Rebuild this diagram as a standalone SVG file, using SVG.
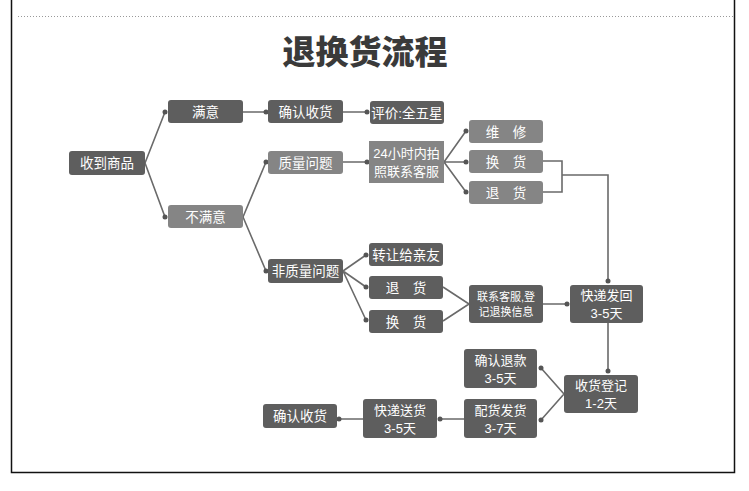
<svg xmlns="http://www.w3.org/2000/svg" width="749" height="491" viewBox="0 0 749 491">
<style>
.dk{fill:#5e5e5e}
.lt{fill:#858585}
.t{font-family:"Liberation Sans","Noto Sans CJK SC",sans-serif;font-size:13.5px;fill:#fff;text-anchor:middle}
.m{font-size:13px}
.s{font-size:11px}
.c{fill:none;stroke:#6a6a6a;stroke-width:1.6}
.d{fill:#555}
</style>
<rect width="749" height="491" fill="#fff"/>
<g id="frame">
<path d="M11.5,0 V472.5 H734.5 V0" fill="none" stroke="#111" stroke-width="1.5"/>
<line x1="18" y1="16.5" x2="734" y2="16.5" stroke="#999" stroke-width="1" stroke-dasharray="1,2"/>
</g>
<text id="title" x="365" y="64" font-family="Noto Sans CJK SC,serif" font-weight="900" font-size="33" fill="#3a3a3a" text-anchor="middle">退换货流程</text>
<g id="connectors">
<path class="c" d="M145,163 L165,112 M145,163 L165,217 M243,112 H266 M343,112 H367 M243,217 L266,162 M243,217 L266,271 M343,162 H367 M444,162 L466,131 M444,162 H466 M444,162 L466,192 M543,161 H562 V192 H543 M562,175 H608 V281 M343,271 L366,255 M343,271 L366,287 M343,271 L366,320 M443,287 L469,304 M443,321 L469,304 M543,304 H567 M608,323 V371 M564,394 L541,368 M564,394 L541,420 M464,419 H440 M363,419 H339"/>
<g class="d">
<circle cx="165" cy="112" r="2.5"/><circle cx="165" cy="217" r="2.5"/><circle cx="266" cy="112" r="2.5"/><circle cx="367" cy="112" r="2.5"/>
<circle cx="266" cy="162" r="2.5"/><circle cx="266" cy="271" r="2.5"/><circle cx="367" cy="162" r="2.5"/>
<circle cx="466" cy="131" r="2.5"/><circle cx="466" cy="162" r="2.5"/><circle cx="466" cy="192" r="2.5"/>
<circle cx="608" cy="281" r="2.5"/><circle cx="366" cy="255" r="2.5"/><circle cx="366" cy="287" r="2.5"/><circle cx="366" cy="320" r="2.5"/>
<circle cx="567" cy="304" r="2.5"/><circle cx="608" cy="371" r="2.5"/><circle cx="541" cy="368" r="2.5"/><circle cx="541" cy="420" r="2.5"/>
<circle cx="440" cy="419" r="2.5"/><circle cx="339" cy="419" r="2.5"/>
</g>
</g>
<g id="n1"><rect class="dk" x="69" y="151" width="76" height="24" rx="3"/><text class="t" x="107" y="168">收到商品</text></g>
<g id="n2"><rect class="dk" x="168" y="100" width="75" height="23" rx="3"/><text class="t" x="205.5" y="116.5">满意</text></g>
<g id="n3"><rect class="lt" x="168" y="205" width="75" height="23" rx="3"/><text class="t" x="205.5" y="221.5">不满意</text></g>
<g id="n4"><rect class="dk" x="268" y="100" width="75" height="23" rx="3"/><text class="t" x="305.5" y="116.5">确认收货</text></g>
<g id="n5"><rect class="dk" x="370" y="101" width="74" height="23" rx="3"/><text class="t" x="407" y="117.5">评价:全五星</text></g>
<g id="n6"><rect class="lt" x="268" y="151" width="75" height="23" rx="3"/><text class="t" x="305.5" y="167.5">质量问题</text></g>
<g id="n7"><rect class="lt" x="369" y="141" width="75" height="42"/><text class="t m" x="406.5" y="158">24小时内拍</text><text class="t m" x="406.5" y="176">照联系客服</text></g>
<g id="n8"><rect class="lt" x="469" y="120" width="74" height="23" rx="3"/><text class="t" x="506" y="136.5">维　修</text></g>
<g id="n9"><rect class="lt" x="469" y="150" width="74" height="23" rx="3"/><text class="t" x="506" y="166.5">换　货</text></g>
<g id="n10"><rect class="lt" x="469" y="181" width="74" height="23" rx="3"/><text class="t" x="506" y="197.5">退　货</text></g>
<g id="n11"><rect class="dk" x="268" y="259" width="75" height="24" rx="3"/><text class="t" x="305.5" y="276">非质量问题</text></g>
<g id="n12"><rect class="dk" x="369" y="243" width="74" height="23" rx="3"/><text class="t" x="406" y="259.5">转让给亲友</text></g>
<g id="n13"><rect class="dk" x="369" y="276" width="74" height="23" rx="3"/><text class="t" x="406" y="292.5">退　货</text></g>
<g id="n14"><rect class="dk" x="369" y="310" width="74" height="23" rx="3"/><text class="t" x="406" y="326.5">换　货</text></g>
<g id="n15"><rect class="dk" x="469" y="285" width="74" height="38" rx="3"/><text class="t s" x="506" y="301">联系客服,登</text><text class="t s" x="506" y="316">记退换信息</text></g>
<g id="n16"><rect class="dk" x="570" y="285" width="73" height="38" rx="3"/><text class="t m" x="606.5" y="300">快递发回</text><text class="t m" x="606.5" y="318">3-5天</text></g>
<g id="n17"><rect class="dk" x="564" y="375" width="74" height="38" rx="3"/><text class="t m" x="601" y="390">收货登记</text><text class="t m" x="601" y="408">1-2天</text></g>
<g id="n18"><rect class="dk" x="464" y="349" width="73" height="39" rx="3"/><text class="t m" x="500.5" y="364.5">确认退款</text><text class="t m" x="500.5" y="382.5">3-5天</text></g>
<g id="n19"><rect class="dk" x="464" y="399" width="73" height="39" rx="3"/><text class="t m" x="500.5" y="414.5">配货发货</text><text class="t m" x="500.5" y="432.5">3-7天</text></g>
<g id="n20"><rect class="dk" x="363" y="399" width="74" height="39" rx="3"/><text class="t m" x="400" y="414.5">快递送货</text><text class="t m" x="400" y="432.5">3-5天</text></g>
<g id="n21"><rect class="dk" x="263" y="404" width="74" height="24" rx="3"/><text class="t" x="300" y="421">确认收货</text></g>
</svg>
